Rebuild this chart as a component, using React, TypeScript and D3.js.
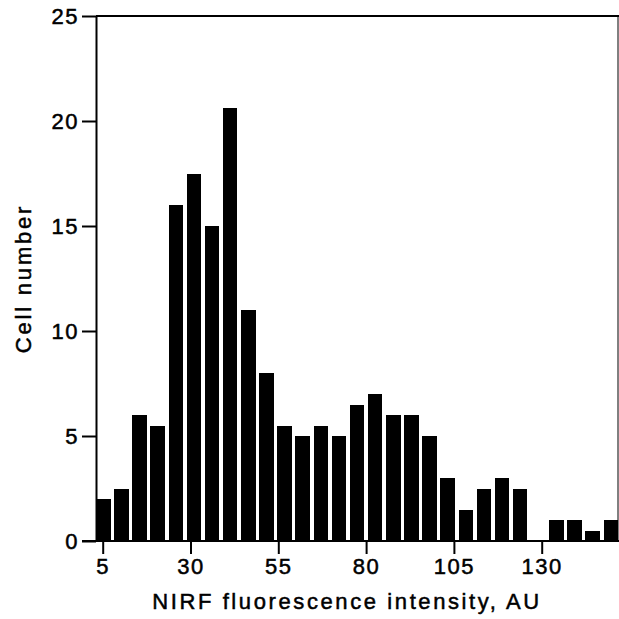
import React, { useEffect, useRef } from "react";
import * as d3 from "d3";

// nominal bin labels (AU), one per bar
const bins = [
  5, 10, 15, 20, 25, 30, 35, 40, 45, 50, 55, 60, 65, 70, 75,
  80, 85, 90, 95, 100, 105, 110, 115, 120, 125, 130, 135, 140, 145,
];
// cell counts per bin
const counts = [
  2, 2.5, 6, 5.5, 16, 17.5, 15, 20.6, 11, 8, 5.5, 5, 5.5, 5, 6.5,
  7, 6, 6, 5, 3, 1.5, 2.5, 3, 2.5, 0, 1, 1, 0.5, 1,
];
const xTicks = [5, 30, 55, 80, 105, 130];
const yTicks = [0, 5, 10, 15, 20, 25];

const W = 619;
const H = 619;
const FONT = "'Liberation Sans', Arial, sans-serif";

const App = () => {
  const svgRef = useRef<SVGSVGElement>(null);

  useEffect(() => {
    const svg = d3.select(svgRef.current);
    svg.selectAll("*").remove();

    const left = 96;
    const right = 618;
    const top = 16;
    const bottom = 541;

    const band = d3
      .scaleBand<number>()
      .domain(bins)
      .range([left, right])
      .paddingInner(0.2)
      .paddingOuter(0);

    const x = d3.scaleLinear().domain([5, 130]).range([102.7, 541.7]);
    const y = d3.scaleLinear().domain([0, 25]).range([bottom, top]);

    // bars
    svg
      .append("g")
      .selectAll("rect")
      .data(bins.map((b, i) => ({ b, v: counts[i] })))
      .enter()
      .append("rect")
      .attr("x", (d) => band(d.b)!)
      .attr("y", (d) => y(d.v))
      .attr("width", band.bandwidth())
      .attr("height", (d) => bottom - y(d.v))
      .attr("fill", "#000")
      .attr("shape-rendering", "crispEdges");

    // frame (top + right)
    svg
      .append("line")
      .attr("x1", left)
      .attr("x2", W)
      .attr("y1", top)
      .attr("y2", top)
      .attr("stroke", "#000")
      .attr("stroke-width", 2);
    svg
      .append("line")
      .attr("x1", right)
      .attr("x2", right)
      .attr("y1", top)
      .attr("y2", bottom)
      .attr("stroke", "#000")
      .attr("stroke-width", 1);

    const styleText = (sel: any, spacing: number) =>
      sel
        .attr("font-family", FONT)
        .attr("font-size", 22)
        .attr("letter-spacing", spacing)
        .attr("fill", "#000")
        .attr("stroke", "#000")
        .attr("stroke-width", 0.5);

    // y axis
    const gy = svg
      .append("g")
      .attr("transform", `translate(${left},0)`)
      .call(
        d3
          .axisLeft(y)
          .tickValues(yTicks)
          .tickSize(14)
          .tickSizeOuter(0)
          .tickPadding(3),
      );
    gy.select(".domain").attr("stroke-width", 2);
    gy.selectAll(".tick line").attr("stroke-width", 2);
    styleText(gy.selectAll(".tick text"), 1.5);

    // x axis
    const gx = svg
      .append("g")
      .attr("transform", `translate(0,${bottom})`)
      .call(
        d3
          .axisBottom(x)
          .tickValues(xTicks)
          .tickSize(13)
          .tickSizeOuter(0)
          .tickPadding(4),
      );
    gx.select(".domain").remove();
    gx.selectAll(".tick line").attr("stroke-width", 2);
    styleText(gx.selectAll(".tick text"), 1.5);
    svg
      .append("line")
      .attr("x1", left - 14)
      .attr("x2", W)
      .attr("y1", bottom)
      .attr("y2", bottom)
      .attr("stroke", "#000")
      .attr("stroke-width", 2);

    // axis titles
    styleText(
      svg
        .append("text")
        .attr("x", 347)
        .attr("y", 609)
        .attr("text-anchor", "middle"),
      2.6,
    ).text("NIRF fluorescence intensity, AU");

    styleText(
      svg
        .append("text")
        .attr("transform", `translate(31,${(top + bottom) / 2}) rotate(-90)`)
        .attr("text-anchor", "middle"),
      2.8,
    ).text("Cell number");
  }, []);

  return (
    <svg
      ref={svgRef}
      width={W}
      height={H}
      style={{ position: "absolute", left: 0, top: 0, background: "#fff" }}
    />
  );
};

export default App;
